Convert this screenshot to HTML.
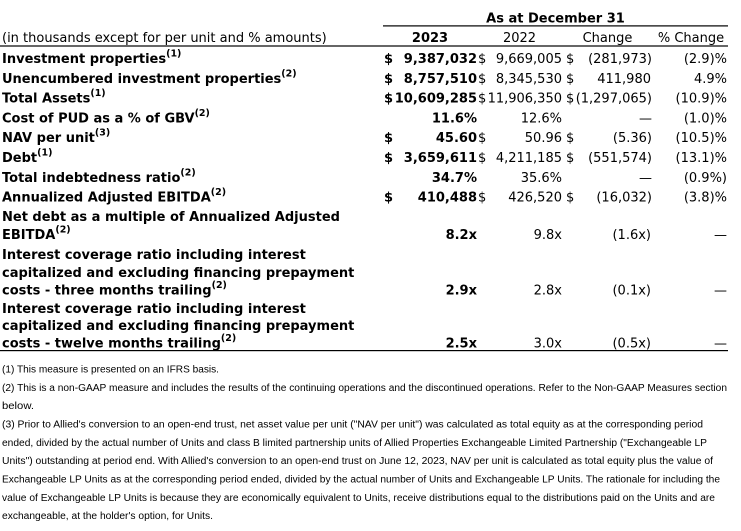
<!DOCTYPE html>
<html>
<head>
<meta charset="utf-8">
<style>
  html, body { margin: 0; padding: 0; background: #ffffff; }
  body { width: 741px; height: 531px; overflow: hidden; }
  svg { display: block; }
  .t { font-family: "DejaVu Sans", Verdana, sans-serif; font-size: 13px; fill: #000; }
  .b { font-weight: bold; }
  .fn { font-family: "Liberation Sans", Tahoma, sans-serif; font-size: 10px; fill: #000; }
</style>
</head>
<body>
<svg width="741" height="531" viewBox="0 0 741 531" xmlns="http://www.w3.org/2000/svg">
  <rect x="0" y="0" width="741" height="531" fill="#fff"/>

  <!-- Header -->
  <text class="t b" x="555.5" y="22.5" text-anchor="middle">As at December 31</text>
  <rect x="383" y="25.3" width="345" height="1.2" fill="#000"/>

  <text class="t" x="2" y="41.8">(in thousands except for per unit and % amounts)</text>
  <text class="t b" x="430" y="41.8" text-anchor="middle">2023</text>
  <text class="t" x="519.5" y="41.8" text-anchor="middle">2022</text>
  <text class="t" x="607.5" y="41.8" text-anchor="middle">Change</text>
  <text class="t" x="691" y="41.8" text-anchor="middle">% Change</text>
  <rect x="0" y="45.4" width="728" height="1.2" fill="#000"/>

  <!-- Labels -->
  <text class="t b" x="2" y="63">Investment properties<tspan font-size="9.5" dy="-6.5">(1)</tspan></text>
  <text class="t b" x="2" y="82.8">Unencumbered investment properties<tspan font-size="9.5" dy="-6.5">(2)</tspan></text>
  <text class="t b" x="2" y="102.6">Total Assets<tspan font-size="9.5" dy="-6.5">(1)</tspan></text>
  <text class="t b" x="2" y="122.4">Cost of PUD as a % of GBV<tspan font-size="9.5" dy="-6.5">(2)</tspan></text>
  <text class="t b" x="2" y="142.2">NAV per unit<tspan font-size="9.5" dy="-6.5">(3)</tspan></text>
  <text class="t b" x="2" y="162">Debt<tspan font-size="9.5" dy="-6.5">(1)</tspan></text>
  <text class="t b" x="2" y="181.8">Total indebtedness ratio<tspan font-size="9.5" dy="-6.5">(2)</tspan></text>
  <text class="t b" x="2" y="201.6">Annualized Adjusted EBITDA<tspan font-size="9.5" dy="-6.5">(2)</tspan></text>
  <text class="t b" x="2" y="221.2">Net debt as a multiple of Annualized Adjusted</text>
  <text class="t b" x="2" y="239.2">EBITDA<tspan font-size="9.5" dy="-6.5">(2)</tspan></text>
  <text class="t b" x="2" y="259.2">Interest coverage ratio including interest</text>
  <text class="t b" x="2" y="276.9">capitalized and excluding financing prepayment</text>
  <text class="t b" x="2" y="294.6">costs - three months trailing<tspan font-size="9.5" dy="-6.5">(2)</tspan></text>
  <text class="t b" x="2" y="312.8">Interest coverage ratio including interest</text>
  <text class="t b" x="2" y="330.2">capitalized and excluding financing prepayment</text>
  <text class="t b" x="2" y="347.5">costs - twelve months trailing<tspan font-size="9.5" dy="-6.5">(2)</tspan></text>

  <!-- Row 1 -->
  <text class="t b" x="384" y="63">$</text>
  <text class="t b" x="477" y="63" text-anchor="end">9,387,032</text>
  <text class="t" x="478" y="63">$</text>
  <text class="t" x="562" y="63" text-anchor="end">9,669,005</text>
  <text class="t" x="566" y="63">$</text>
  <text class="t" x="652" y="63" text-anchor="end">(281,973)</text>
  <text class="t" x="727" y="63" text-anchor="end">(2.9)%</text>

  <!-- Row 2 -->
  <text class="t b" x="384" y="82.8">$</text>
  <text class="t b" x="477" y="82.8" text-anchor="end">8,757,510</text>
  <text class="t" x="478" y="82.8">$</text>
  <text class="t" x="562" y="82.8" text-anchor="end">8,345,530</text>
  <text class="t" x="566" y="82.8">$</text>
  <text class="t" x="651" y="82.8" text-anchor="end">411,980</text>
  <text class="t" x="727" y="82.8" text-anchor="end">4.9%</text>

  <!-- Row 3 -->
  <text class="t b" x="384" y="102.6">$</text>
  <text class="t b" x="477" y="102.6" text-anchor="end">10,609,285</text>
  <text class="t" x="478" y="102.6">$</text>
  <text class="t" x="562" y="102.6" text-anchor="end">11,906,350</text>
  <text class="t" x="566" y="102.6">$</text>
  <text class="t" x="652" y="102.6" text-anchor="end">(1,297,065)</text>
  <text class="t" x="727" y="102.6" text-anchor="end">(10.9)%</text>

  <!-- Row 4 -->
  <text class="t b" x="477" y="122.4" text-anchor="end">11.6%</text>
  <text class="t" x="562" y="122.4" text-anchor="end">12.6%</text>
  <text class="t" x="652" y="122.4" text-anchor="end">—</text>
  <text class="t" x="727" y="122.4" text-anchor="end">(1.0)%</text>

  <!-- Row 5 -->
  <text class="t b" x="384" y="142.2">$</text>
  <text class="t b" x="477" y="142.2" text-anchor="end">45.60</text>
  <text class="t" x="478" y="142.2">$</text>
  <text class="t" x="562" y="142.2" text-anchor="end">50.96</text>
  <text class="t" x="566" y="142.2">$</text>
  <text class="t" x="652" y="142.2" text-anchor="end">(5.36)</text>
  <text class="t" x="727" y="142.2" text-anchor="end">(10.5)%</text>

  <!-- Row 6 -->
  <text class="t b" x="384" y="162">$</text>
  <text class="t b" x="477" y="162" text-anchor="end">3,659,611</text>
  <text class="t" x="478" y="162">$</text>
  <text class="t" x="562" y="162" text-anchor="end">4,211,185</text>
  <text class="t" x="566" y="162">$</text>
  <text class="t" x="652" y="162" text-anchor="end">(551,574)</text>
  <text class="t" x="727" y="162" text-anchor="end">(13.1)%</text>

  <!-- Row 7 -->
  <text class="t b" x="477" y="181.8" text-anchor="end">34.7%</text>
  <text class="t" x="562" y="181.8" text-anchor="end">35.6%</text>
  <text class="t" x="652" y="181.8" text-anchor="end">—</text>
  <text class="t" x="727" y="181.8" text-anchor="end">(0.9%)</text>

  <!-- Row 8 -->
  <text class="t b" x="384" y="201.6">$</text>
  <text class="t b" x="477" y="201.6" text-anchor="end">410,488</text>
  <text class="t" x="478" y="201.6">$</text>
  <text class="t" x="562" y="201.6" text-anchor="end">426,520</text>
  <text class="t" x="566" y="201.6">$</text>
  <text class="t" x="652" y="201.6" text-anchor="end">(16,032)</text>
  <text class="t" x="727" y="201.6" text-anchor="end">(3.8)%</text>

  <!-- Row 9 -->
  <text class="t b" x="477" y="239.2" text-anchor="end">8.2x</text>
  <text class="t" x="562" y="239.2" text-anchor="end">9.8x</text>
  <text class="t" x="651" y="239.2" text-anchor="end">(1.6x)</text>
  <text class="t" x="727" y="239.2" text-anchor="end">—</text>

  <!-- Row 10 -->
  <text class="t b" x="477" y="294.6" text-anchor="end">2.9x</text>
  <text class="t" x="562" y="294.6" text-anchor="end">2.8x</text>
  <text class="t" x="651" y="294.6" text-anchor="end">(0.1x)</text>
  <text class="t" x="727" y="294.6" text-anchor="end">—</text>

  <!-- Row 11 -->
  <text class="t b" x="477" y="347.5" text-anchor="end">2.5x</text>
  <text class="t" x="562" y="347.5" text-anchor="end">3.0x</text>
  <text class="t" x="651" y="347.5" text-anchor="end">(0.5x)</text>
  <text class="t" x="727" y="347.5" text-anchor="end">—</text>

  <rect x="0" y="350" width="728" height="1.2" fill="#000"/>

  <!-- Footnotes -->
  <text class="fn" x="2" y="372.4" textLength="217" lengthAdjust="spacingAndGlyphs">(1) This measure is presented on an IFRS basis.</text>
  <text class="fn" x="2" y="390.8" textLength="725" lengthAdjust="spacingAndGlyphs">(2) This is a non-GAAP measure and includes the results of the continuing operations and the discontinued operations. Refer to the Non-GAAP Measures section</text>
  <text class="fn" x="2" y="409.2" textLength="32" lengthAdjust="spacingAndGlyphs">below.</text>
  <text class="fn" x="2" y="427.6" textLength="701" lengthAdjust="spacingAndGlyphs">(3) Prior to Allied's conversion to an open-end trust, net asset value per unit ("NAV per unit") was calculated as total equity as at the corresponding period</text>
  <text class="fn" x="2" y="445.9" textLength="705" lengthAdjust="spacingAndGlyphs">ended, divided by the actual number of Units and class B limited partnership units of Allied Properties Exchangeable Limited Partnership ("Exchangeable LP</text>
  <text class="fn" x="2" y="464.2" textLength="711" lengthAdjust="spacingAndGlyphs">Units") outstanding at period end. With Allied's conversion to an open-end trust on June 12, 2023, NAV per unit is calculated as total equity plus the value of</text>
  <text class="fn" x="2" y="482.5" textLength="718" lengthAdjust="spacingAndGlyphs">Exchangeable LP Units as at the corresponding period ended, divided by the actual number of Units and Exchangeable LP Units. The rationale for including the</text>
  <text class="fn" x="2" y="500.8" textLength="713" lengthAdjust="spacingAndGlyphs">value of Exchangeable LP Units is because they are economically equivalent to Units, receive distributions equal to the distributions paid on the Units and are</text>
  <text class="fn" x="2" y="519.1" textLength="211" lengthAdjust="spacingAndGlyphs">exchangeable, at the holder's option, for Units.</text>
</svg>
</body>
</html>
